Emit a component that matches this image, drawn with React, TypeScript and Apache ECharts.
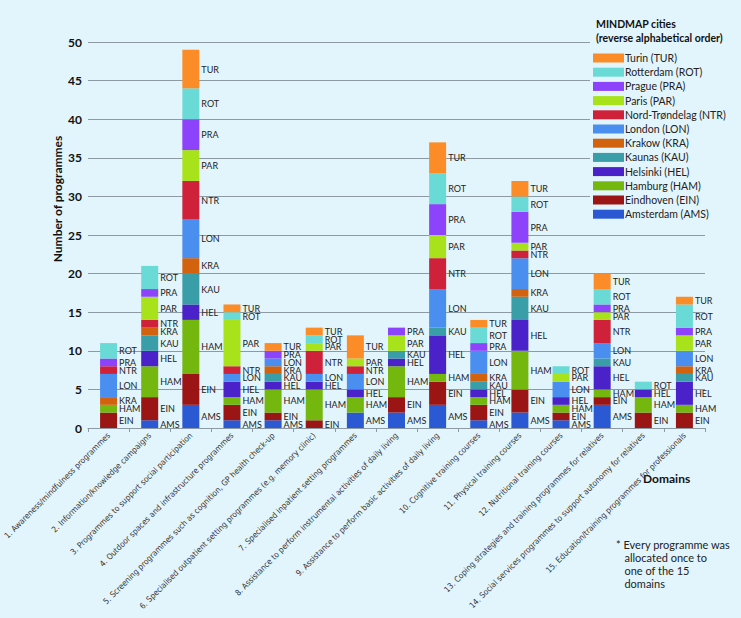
import React, { useEffect, useRef } from "react";
import * as echarts from "echarts";

const domains = [
  "1. Awareness/mindfulness programmes",
  "2. Information/knowledge campaigns",
  "3. Programmes to support social participation",
  "4. Outdoor spaces and infrastructure programmes",
  "5. Screening programmes such as cognition, GP health check-up",
  "6. Specialised outpatient setting programmes (e.g. memory clinic)",
  "7. Specialised inpatient setting programmes",
  "8. Assistance to perform instrumental activities of daily living",
  "9. Assistance to perform basic activities of daily living",
  "10. Cognitive training courses",
  "11. Physical training courses",
  "12. Nutritional training courses",
  "13. Coping strategies and training programmes for relatives",
  "14. Social services programmes to support autonomy for relatives",
  "15. Education/training programmes for professionals",
];

// Stack order bottom -> top
const cityCodes = ["AMS", "EIN", "HAM", "HEL", "KAU", "KRA", "LON", "NTR", "PAR", "PRA", "ROT", "TUR"];
const cityNames = [
  "Amsterdam (AMS)",
  "Eindhoven (EIN)",
  "Hamburg (HAM)",
  "Helsinki (HEL)",
  "Kaunas (KAU)",
  "Krakow (KRA)",
  "London (LON)",
  "Nord-Trøndelag (NTR)",
  "Paris (PAR)",
  "Prague (PRA)",
  "Rotterdam (ROT)",
  "Turin (TUR)",
];
const cityColors = [
  "#2b59d3",
  "#9b1515",
  "#74b80f",
  "#4b22c9",
  "#3a9ea8",
  "#d2620d",
  "#4a8ff0",
  "#d0213b",
  "#a8e21b",
  "#8d43fb",
  "#69dad5",
  "#fb8c27",
];

const AMS = [0, 1, 3, 1, 1, 0, 2, 2, 3, 1, 2, 1, 3, 0, 0];
const EIN = [2, 3, 4, 2, 1, 1, 0, 2, 3, 2, 3, 1, 1, 2, 2];
const HAM = [1, 4, 7, 1, 3, 4, 2, 4, 1, 1, 5, 1, 1, 2, 1];
const HEL = [0, 2, 2, 2, 1, 1, 1, 1, 5, 1, 4, 1, 3, 1, 3];
const KAU = [0, 2, 4, 0, 1, 0, 0, 1, 1, 1, 3, 0, 1, 0, 1];
const KRA = [1, 1, 2, 0, 1, 0, 0, 0, 0, 1, 1, 0, 0, 0, 1];
const LON = [3, 0, 5, 1, 1, 1, 2, 0, 5, 3, 4, 2, 2, 0, 2];
const NTR = [1, 1, 5, 1, 0, 3, 1, 0, 4, 0, 1, 0, 3, 0, 0];
const PAR = [0, 3, 4, 6, 0, 1, 1, 2, 3, 0, 1, 1, 1, 0, 2];
const PRA = [1, 1, 4, 0, 1, 0, 0, 1, 4, 1, 4, 0, 1, 0, 1];
const ROT = [2, 3, 4, 1, 0, 1, 0, 0, 4, 2, 2, 1, 2, 1, 3];
const TUR = [0, 0, 5, 1, 1, 1, 3, 0, 4, 1, 2, 0, 2, 0, 1];

const cityValues = [AMS, EIN, HAM, HEL, KAU, KRA, LON, NTR, PAR, PRA, ROT, TUR];

const yTicks = [0, 5, 10, 15, 20, 25, 30, 35, 40, 45, 50];

const BG = "#e3f5fc";
const FONT = "Lato, 'Open Sans', sans-serif";
const NARROW = "'Liberation Sans Narrow', 'Arial Narrow', 'DejaVu Sans Condensed', sans-serif";

export default function App() {
  const ref = useRef<HTMLDivElement>(null);

  useEffect(() => {
    if (!ref.current) return;
    const chart = echarts.init(ref.current, null, { renderer: "svg" });
    const totals = domains.map((_, i) => cityValues.reduce((s, arr) => s + arr[i], 0));

    const barSeries = cityCodes.map((code, ci) => ({
      name: cityNames[ci],
      type: "bar",
      stack: "total",
      barWidth: 17,
      itemStyle: { color: cityColors[ci] },
      data: cityValues[ci].map((v) => (v === 0 ? null : v)),
      label: {
        show: true,
        position: "right",
        distance: 2,
        formatter: () => code,
        color: "#222",
        fontSize: 9,
        lineHeight: 8,
        fontFamily: FONT,
      },
      emphasis: { disabled: true },
    }));

    const totalSeries = {
      name: "total",
      type: "scatter",
      data: totals,
      symbolSize: 1,
      itemStyle: { opacity: 0 },
      label: {
        show: true,
        position: "top",
        distance: 5,
        formatter: (p: any) => String(p.value),
        color: "#111",
        fontSize: 15,
        fontWeight: "bold",
        fontFamily: FONT,
      },
      z: 5,
    };

    chart.setOption({
      animation: false,
      backgroundColor: BG,
      grid: {
        left: 88,
        right: 36,
        top: 42,
        bottom: 190,
        containLabel: false,
        outerBoundsMode: "none",
      },
      legend: {
        orient: "vertical",
        left: 590,
        top: 14,
        width: 150,
        padding: [38, 10, 6, 3],
        backgroundColor: BG,
        itemWidth: 31,
        itemHeight: 9,
        itemGap: 2.2,
        data: cityNames.slice().reverse(),
        textStyle: {
          fontSize: 10.5,
          lineHeight: 12,
          color: "#222",
          fontFamily: FONT,
          padding: [0, 0, 0, -4],
        },
        selectedMode: false,
        icon: "rect",
      },
      xAxis: {
        type: "category",
        data: domains,
        axisLine: { lineStyle: { color: "#8c9aa3" } },
        axisTick: { show: true, lineStyle: { color: "#8c9aa3" }, length: 4 },
        axisLabel: {
          interval: 0,
          rotate: 45,
          fontSize: 8.2,
          color: "#333",
          fontFamily: NARROW,
          margin: 6,
        },
      },
      yAxis: {
        type: "value",
        min: 0,
        max: 50,
        interval: 5,
        axisLine: { show: false },
        axisTick: { show: false },
        axisLabel: {
          fontSize: 12,
          fontWeight: "bold",
          color: "#111",
          fontFamily: FONT,
          margin: 6,
          formatter: (v: number) => (yTicks.includes(v) ? String(v) : ""),
        },
        splitLine: { lineStyle: { color: "#8c9aa3", width: 1 } },
      },
      graphic: [
        {
          type: "text",
          x: 57,
          y: 199,
          rotation: Math.PI / 2,
          style: {
            text: "Number of programmes",
            fontSize: 12,
            fontWeight: "bold",
            fill: "#111",
            fontFamily: FONT,
            align: "center",
            verticalAlign: "middle",
          },
        },
        {
          type: "text",
          left: 596,
          top: 17,
          z: 100,
          style: {
            text: "MINDMAP cities\n(reverse alphabetical order)",
            fontSize: 10.5,
            fontWeight: "bold",
            lineHeight: 14,
            fill: "#111",
            fontFamily: FONT,
          },
        },
        {
          type: "text",
          left: 643,
          top: 472,
          style: {
            text: "Domains",
            fontSize: 12,
            fontWeight: "bold",
            fill: "#111",
            fontFamily: FONT,
          },
        },
        {
          type: "text",
          left: 616,
          top: 538,
          style: {
            text: "* Every programme was\n   allocated once to\n   one of the 15\n   domains",
            fontSize: 11,
            lineHeight: 13,
            fill: "#222",
            fontFamily: FONT,
          },
        },
      ],
      series: [...barSeries, totalSeries],
    });

    return () => chart.dispose();
  }, []);

  return <div ref={ref} style={{ width: 741, height: 618, position: "absolute", left: 0, top: 0 }} />;
}
